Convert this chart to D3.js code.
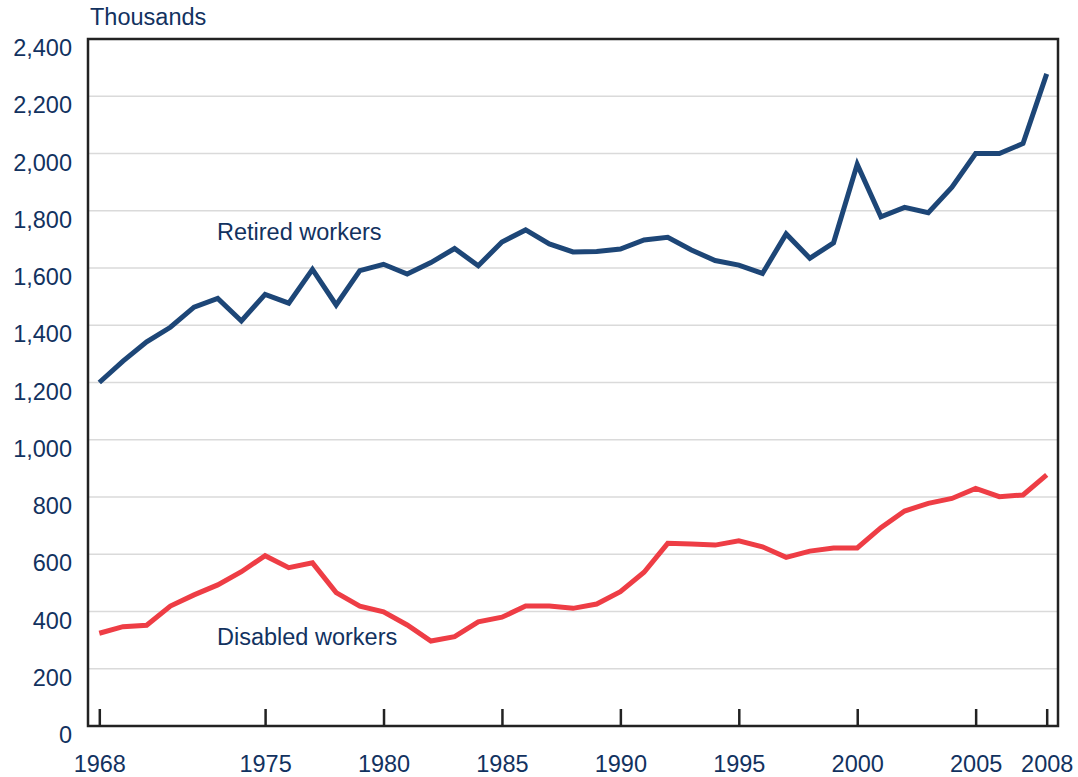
<!DOCTYPE html>
<html><head><meta charset="utf-8">
<script src="https://cdn.jsdelivr.net/npm/d3@7"></script>
<style>body{margin:0;background:#fff}svg{display:block}text{font-family:"Liberation Sans",Arial,sans-serif}</style>
</head><body>
<svg id="c" width="1078" height="777"></svg>
<script>
const years = d3.range(1968, 2009);
const retired = [1200,1275,1342,1393,1463,1494,1415,1508,1477,1595,1471,1591,1613,1579,1619,1668,1608,1691,1733,1684,1656,1658,1666,1698,1707,1663,1626,1610,1581,1719,1634,1688,1962,1779,1812,1793,1882,2000,2000,2035,2278];
const disabled = [324,347,352,419,458,493,539,595,553,570,466,419,399,353,297,312,364,380,419,419,411,426,469,537,638,636,632,647,626,589,611,622,622,693,751,778,795,830,801,807,877];
const xTicks = [1968,1975,1980,1985,1990,1995,2000,2005,2008];
const yTicks = [0,200,400,600,800,1000,1200,1400,1600,1800,2000,2200,2400];
const seriesNames = ["Retired workers","Disabled workers"];

const svg = d3.select("#c");
const L=88, R=1058, T=39, B=726;
const x = d3.scaleLinear().domain([1968,2008]).range([99.3,1046.7]);
const y = d3.scaleLinear().domain([0,2400]).range([B,T]);
const navy = "#12325f";
const fs = 23.5;

// gridlines
svg.append("g").selectAll("line").data(yTicks.filter(d=>d>0&&d<2400)).join("line")
  .attr("x1",L).attr("x2",R).attr("y1",d=>y(d)).attr("y2",d=>y(d))
  .attr("stroke","#dadada").attr("stroke-width",1.5);

// y labels
svg.append("g").selectAll("text").data(yTicks).join("text")
  .attr("x",72).attr("y",d=>y(d)+17).attr("text-anchor","end")
  .attr("font-size",fs).attr("fill",navy).text(d=>d3.format(",")(d));

// x axis ticks inward
const xa = d3.axisBottom(x).tickValues(xTicks).tickSize(-17).tickFormat(d3.format("d")).tickPadding(29);
const gx = svg.append("g").attr("transform",`translate(0,${B})`).call(xa);
gx.select(".domain").remove();
gx.selectAll(".tick line").attr("stroke","#222").attr("stroke-width",2.5);
gx.selectAll(".tick text").attr("font-size",fs).attr("fill",navy).attr("font-family","Liberation Sans, Arial, sans-serif");

// frame
svg.append("path").attr("d",`M${L},${T}H${R}V${B}H${L}Z`).attr("fill","none")
  .attr("stroke","#222").attr("stroke-width",2.5);

svg.append("text").attr("x",90).attr("y",25).attr("font-size",fs).attr("fill",navy).text("Thousands");

const line = d3.line().x((d,i)=>x(years[i])).y(d=>y(d));
svg.append("path").datum(retired).attr("d",line).attr("fill","none")
  .attr("stroke","#1d4677").attr("stroke-width",5).attr("stroke-linejoin","miter");
svg.append("path").datum(disabled).attr("d",line).attr("fill","none")
  .attr("stroke","#ee3d45").attr("stroke-width",5).attr("stroke-linejoin","miter");

svg.append("text").attr("x",217).attr("y",240).attr("font-size",fs).attr("fill",navy).text(seriesNames[0]);
svg.append("text").attr("x",217).attr("y",645).attr("font-size",fs).attr("fill",navy).text(seriesNames[1]);
</script>
</body></html>
